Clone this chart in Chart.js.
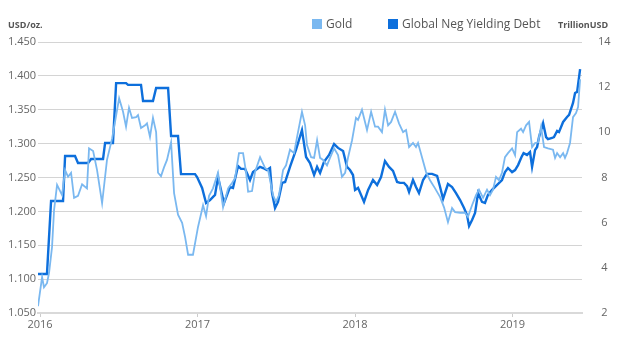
<!DOCTYPE html>
<html>
<head>
<meta charset="utf-8">
<script src="https://cdn.jsdelivr.net/npm/chart.js@4/dist/chart.umd.min.js"></script>
<style>
  body { margin: 0; background: #fff; }
  #wrap { position: relative; width: 620px; height: 341px; font-family: "Open Sans", sans-serif; }
  #chart { position: absolute; left: 0; top: 0; }
  .unit { position: absolute; top: 18px; font-size: 9px; font-weight: bold; color: #555; }
  .legend { position: absolute; top: 15px; font-size: 12px; color: #555; display: flex; align-items: center; }
  .legend span.box { display: inline-block; width: 10px; height: 10px; margin-right: 4px; }
</style>
</head>
<body>
<div id="wrap">
  <canvas id="chart" width="620" height="341"></canvas>
  <div class="unit" style="left:8px">USD/oz.</div>
  <div class="unit" style="left:558px">TrillionUSD</div>
  <div class="legend" style="left:312px"><span class="box" style="background:#7ab8f0"></span>Gold</div>
  <div class="legend" style="left:388px"><span class="box" style="background:#0d6fdc"></span>Global Neg Yielding Debt</div>
</div>
<script>
// Gold price (thousand USD/oz.) by decimal year
const goldDates = [2015.987, 2016.013, 2016.025, 2016.044, 2016.057, 2016.076, 2016.089, 2016.108, 2016.140, 2016.159,
  2016.178, 2016.197, 2016.216, 2016.241, 2016.267, 2016.298, 2016.311, 2016.337, 2016.362, 2016.394,
  2016.425, 2016.457, 2016.476, 2016.502, 2016.527, 2016.546, 2016.565, 2016.584, 2016.610, 2016.622,
  2016.641, 2016.667, 2016.679, 2016.698, 2016.717, 2016.737, 2016.749, 2016.768, 2016.787, 2016.806,
  2016.832, 2016.851, 2016.876, 2016.902, 2016.921, 2016.940, 2016.971, 2017.003, 2017.035, 2017.054,
  2017.073, 2017.098, 2017.130, 2017.162, 2017.194, 2017.219, 2017.238, 2017.263, 2017.289, 2017.308,
  2017.321, 2017.346, 2017.365, 2017.397, 2017.429, 2017.448, 2017.479, 2017.498, 2017.517, 2017.543,
  2017.562, 2017.587, 2017.613, 2017.632, 2017.663, 2017.683, 2017.695, 2017.721, 2017.740, 2017.759,
  2017.778, 2017.797, 2017.822, 2017.841, 2017.867, 2017.892, 2017.917, 2017.937, 2017.956, 2017.981,
  2018.006, 2018.019, 2018.044, 2018.076, 2018.102, 2018.127, 2018.146, 2018.171, 2018.190, 2018.210,
  2018.229, 2018.254, 2018.279, 2018.305, 2018.324, 2018.343, 2018.368, 2018.387, 2018.400, 2018.425,
  2018.451, 2018.476, 2018.508, 2018.540, 2018.565, 2018.590, 2018.616, 2018.635, 2018.667, 2018.698,
  2018.717, 2018.743, 2018.768, 2018.787, 2018.813, 2018.838, 2018.857, 2018.876, 2018.895, 2018.914,
  2018.933, 2018.952, 2018.971, 2018.997, 2019.016, 2019.029, 2019.054, 2019.067, 2019.086, 2019.105,
  2019.124, 2019.143, 2019.162, 2019.181, 2019.200, 2019.225, 2019.257, 2019.270, 2019.283, 2019.302,
  2019.321, 2019.333, 2019.346, 2019.365, 2019.384, 2019.403, 2019.416, 2019.429];
const goldValues = [1.060, 1.103, 1.088, 1.094, 1.109, 1.147, 1.202, 1.239, 1.224, 1.261,
  1.251, 1.257, 1.220, 1.223, 1.240, 1.234, 1.293, 1.289, 1.261, 1.212,
  1.276, 1.307, 1.332, 1.367, 1.347, 1.325, 1.353, 1.338, 1.339, 1.342,
  1.323, 1.327, 1.330, 1.310, 1.338, 1.317, 1.257, 1.252, 1.265, 1.276,
  1.302, 1.227, 1.195, 1.183, 1.162, 1.136, 1.136, 1.177, 1.209, 1.193,
  1.223, 1.234, 1.257, 1.206, 1.234, 1.242, 1.249, 1.286, 1.286, 1.258,
  1.229, 1.230, 1.258, 1.280, 1.264, 1.261, 1.224, 1.214, 1.224, 1.261,
  1.268, 1.291, 1.286, 1.310, 1.347, 1.327, 1.298, 1.280, 1.279, 1.305,
  1.279, 1.276, 1.268, 1.279, 1.293, 1.283, 1.251, 1.257, 1.280, 1.305,
  1.338, 1.335, 1.350, 1.320, 1.347, 1.325, 1.325, 1.317, 1.350, 1.327,
  1.332, 1.347, 1.330, 1.317, 1.320, 1.295, 1.301, 1.295, 1.301, 1.280,
  1.258, 1.246, 1.234, 1.221, 1.206, 1.184, 1.205, 1.199, 1.198, 1.198,
  1.192, 1.209, 1.224, 1.232, 1.220, 1.232, 1.224, 1.232, 1.251, 1.246,
  1.257, 1.280, 1.286, 1.293, 1.283, 1.317, 1.322, 1.317, 1.327, 1.332,
  1.295, 1.301, 1.302, 1.325, 1.295, 1.293, 1.291, 1.279, 1.286, 1.280,
  1.286, 1.279, 1.286, 1.301, 1.339, 1.345, 1.354, 1.395];

// Global negative yielding debt (trillion USD)
const debtDates = [2015.987, 2016.044, 2016.070, 2016.146, 2016.159, 2016.222, 2016.241, 2016.305, 2016.324, 2016.400,
  2016.413, 2016.463, 2016.483, 2016.546, 2016.559, 2016.641, 2016.654, 2016.717, 2016.737, 2016.813,
  2016.832, 2016.876, 2016.895, 2016.984, 2016.997, 2017.029, 2017.054, 2017.079, 2017.111, 2017.130,
  2017.168, 2017.206, 2017.225, 2017.257, 2017.276, 2017.302, 2017.333, 2017.352, 2017.397, 2017.416,
  2017.441, 2017.460, 2017.473, 2017.492, 2017.511, 2017.537, 2017.556, 2017.587, 2017.625, 2017.663,
  2017.689, 2017.714, 2017.740, 2017.759, 2017.778, 2017.803, 2017.835, 2017.867, 2017.892, 2017.924,
  2017.949, 2017.968, 2017.987, 2018.000, 2018.019, 2018.057, 2018.083, 2018.114, 2018.140, 2018.165,
  2018.190, 2018.216, 2018.241, 2018.267, 2018.286, 2018.311, 2018.330, 2018.343, 2018.368, 2018.387,
  2018.406, 2018.432, 2018.457, 2018.489, 2018.521, 2018.540, 2018.559, 2018.590, 2018.616, 2018.641,
  2018.667, 2018.692, 2018.711, 2018.724, 2018.743, 2018.762, 2018.781, 2018.806, 2018.825, 2018.844,
  2018.870, 2018.902, 2018.933, 2018.952, 2018.971, 2018.997, 2019.016, 2019.035, 2019.057, 2019.070,
  2019.092, 2019.111, 2019.124, 2019.143, 2019.156, 2019.168, 2019.194, 2019.213, 2019.225, 2019.251,
  2019.263, 2019.283, 2019.295, 2019.321, 2019.346, 2019.359, 2019.384, 2019.397, 2019.410, 2019.429];
const debtValues = [3.73, 3.73, 6.96, 6.96, 8.95, 8.95, 8.64, 8.64, 8.82, 8.82,
  9.53, 9.53, 12.18, 12.18, 12.10, 12.10, 11.39, 11.39, 11.96, 11.96,
  9.84, 9.84, 8.15, 8.15, 8.02, 7.54, 6.87, 7.00, 7.23, 8.02,
  6.87, 7.58, 7.54, 8.51, 8.38, 8.38, 7.89, 8.24, 8.47, 8.42,
  8.33, 8.42, 7.31, 6.65, 6.92, 7.76, 7.80, 8.47, 9.22, 10.10,
  8.91, 8.64, 8.11, 8.47, 8.20, 8.69, 9.00, 9.48, 9.31, 9.17,
  8.47, 8.33, 8.11, 7.45, 7.54, 6.92, 7.45, 7.89, 7.67, 8.02,
  8.73, 8.47, 8.29, 7.80, 7.76, 7.76, 7.62, 7.36, 7.89, 7.58,
  7.31, 7.89, 8.16, 8.16, 8.07, 7.58, 7.05, 7.71, 7.58, 7.31,
  7.00, 6.65, 6.34, 5.85, 6.12, 6.43, 7.31, 6.92, 6.87, 7.23,
  7.45, 7.67, 7.89, 8.24, 8.42, 8.24, 8.33, 8.55, 8.91, 9.08,
  9.00, 9.13, 8.47, 9.22, 9.35, 9.79, 10.41, 9.79, 9.70, 9.75,
  9.79, 10.06, 10.01, 10.46, 10.68, 10.77, 11.30, 11.74, 11.79, 12.80];

const yearTicks = [2016, 2017, 2018, 2019];

const tickFont = { family: 'Open Sans', size: 11 };

new Chart(document.getElementById('chart'), {
  type: 'line',
  data: {
    datasets: [
      {
        label: 'Gold',
        data: goldDates.map((d, i) => ({ x: d, y: goldValues[i] })),
        yAxisID: 'yLeft',
        borderColor: '#7ab8f0',
        borderWidth: 1.8,
        pointRadius: 0,
        tension: 0
      },
      {
        label: 'Global Neg Yielding Debt',
        data: debtDates.map((d, i) => ({ x: d, y: debtValues[i] })),
        yAxisID: 'yRight',
        borderColor: '#0d6fdc',
        borderWidth: 2.4,
        pointRadius: 0,
        tension: 0
      }
    ]
  },
  options: {
    responsive: false,
    animation: false,
    layout: { padding: { top: 42, left: 0, right: 0, bottom: 0 } },
    plugins: { legend: { display: false }, tooltip: { enabled: false } },
    scales: {
      x: {
        type: 'linear',
        min: 2015.987,
        max: 2019.441,
        afterBuildTicks: s => { s.ticks = yearTicks.map(v => ({ value: v })); },
        afterFit: s => { s.height = 28; },
        grid: { drawOnChartArea: false, drawTicks: true, tickLength: 4, color: '#cccccc' },
        border: { color: '#d9d9d9', width: 2 },
        ticks: { font: tickFont, color: '#666', padding: 1, maxRotation: 0, callback: v => String(v) }
      },
      yLeft: {
        position: 'left',
        min: 1.05,
        max: 1.45,
        afterFit: s => { s.width = 38; },
        grid: { color: '#d4d4d4', drawTicks: false },
        border: { display: false },
        ticks: { stepSize: 0.05, font: tickFont, color: '#666', padding: 2, callback: v => v.toFixed(3) }
      },
      yRight: {
        position: 'right',
        min: 2,
        max: 14,
        afterFit: s => { s.width = 38; },
        grid: { display: false },
        border: { display: false },
        ticks: { stepSize: 2, font: tickFont, color: '#666', padding: 8, crossAlign: 'center' }
      }
    }
  }
});
</script>
</body>
</html>
